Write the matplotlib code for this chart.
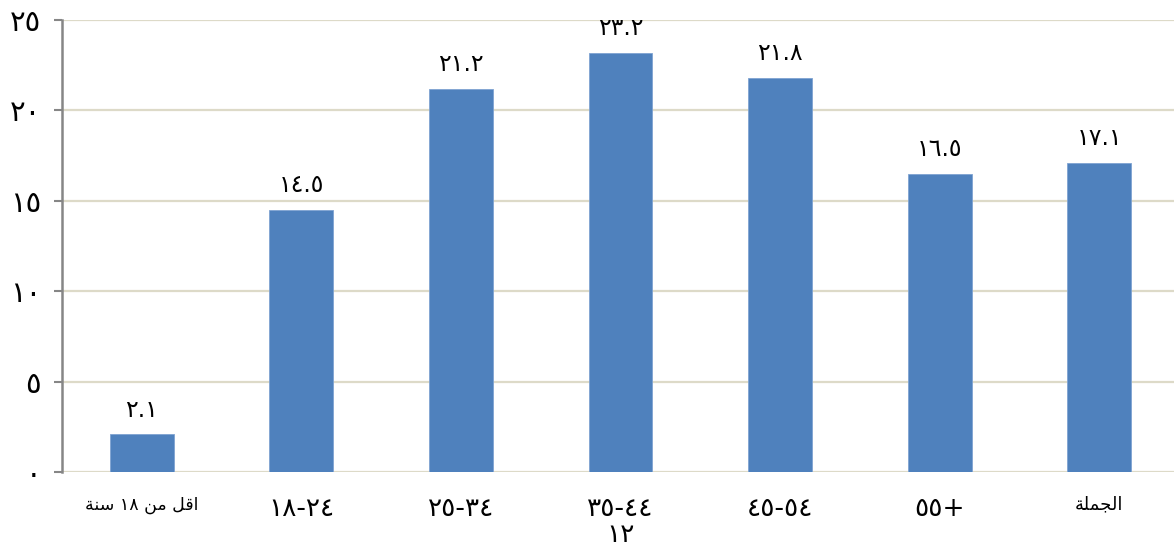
import matplotlib
matplotlib.use('Agg')
from matplotlib import pyplot as plt
import numpy as np

plt.rcParams['font.family'] = ['DejaVu Sans']

# Arabic text is stored in visual (left-to-right) order with presentation forms,
# since matplotlib does no shaping or bidi on its own
categories = [
    '\uFE94\uFEE8\uFEB3 ١٨ \uFEE6\uFEE3 \uFEDE\uFED7\uFE8D',   # اقل من ١٨ سنة
    '١٨-٢٤',
    '٢٥-٣٤',
    '٣٥-٤٤\n١٢',
    '٤٥-٥٤',
    '٥٥+',
    '\uFE94\uFEE0\uFEE4\uFEA0\uFEDF\uFE8D',                       # الجملة
]
values = [2.1, 14.5, 21.2, 23.2, 21.8, 16.5, 17.1]
yticks = [0, 5, 10, 15, 20, 25]

arabic_digits = str.maketrans('0123456789', '٠١٢٣٤٥٦٧٨٩')

def ar(s):
    return str(s).translate(arabic_digits)

W, H = 1174, 546
fig = plt.figure(figsize=(W / 100, H / 100), dpi=100)
ax = fig.add_axes([62 / W, 1 - 472 / H, (W - 62) / W, 452 / H])

x = np.arange(len(values))
ax.bar(x, values, width=0.4, color='#4F81BD', edgecolor='#7FA3D2', linewidth=0.6, zorder=3)

for xi, v in zip(x, values):
    ax.annotate(ar(v), (xi, v), xytext=(0, 9), textcoords='offset points',
                ha='center', va='bottom', fontsize=17, color='black')

ax.set_xlim(-0.5, 6.5 - 5 / 159.7)
ax.set_ylim(0, 25)
ax.set_yticks(yticks)
ax.set_yticklabels([ar(t) for t in yticks], fontsize=21)
ax.yaxis.grid(True, color='#DDDAC8', linewidth=1.6, zorder=0)

ax.set_xticks(x)
ax.set_xticklabels(categories, fontsize=19, linespacing=1.0, va='top')
ax.get_xticklabels()[0].set_fontsize(12.5)
ax.get_xticklabels()[6].set_fontsize(13)

ax.tick_params(axis='x', length=0, pad=17)
ax.tick_params(axis='y', length=6, width=1.5, color='#868686', pad=9)

for side in ('top', 'right', 'bottom'):
    ax.spines[side].set_visible(False)
ax.spines['left'].set_color('#868686')
ax.spines['left'].set_linewidth(1.8)
ax.spines['left'].set_zorder(4)

fig.savefig('out.png', dpi=100)
